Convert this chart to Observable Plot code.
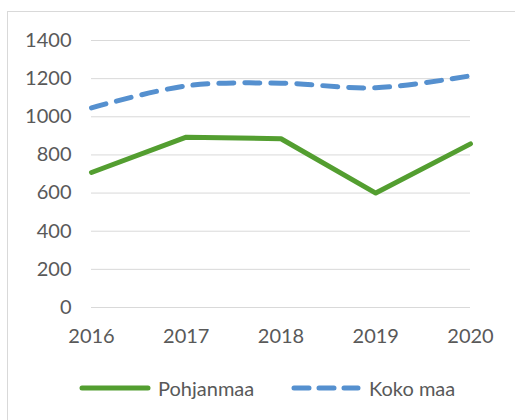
<!DOCTYPE html>
<html><head><meta charset="utf-8">
<script src="https://cdn.jsdelivr.net/npm/d3@7"></script>
<script src="https://cdn.jsdelivr.net/npm/@observablehq/plot@0.6"></script>
<style>
body{margin:0;width:515px;height:420px;overflow:hidden;background:#fff;position:relative;font-family:Lato,sans-serif;}
#frame{position:absolute;left:7px;top:11px;width:600px;height:500px;border:1px solid #d9d9d9;box-sizing:border-box;}
#chart{position:absolute;left:0;top:0;}
#legend{position:absolute;left:0;top:376px;width:515px;height:24px;font-size:20px;line-height:24px;color:#595959;}
#legend .item{position:absolute;top:0;height:24px;white-space:nowrap;}
#legend svg{position:absolute;top:0;}
</style></head><body>
<div id="frame"></div>
<div id="chart"></div>
<div id="legend"></div>
<script>
const years = [2016, 2017, 2018, 2019, 2020];
const pohjanmaa = [708, 893, 885, 600, 858];
const kokoMaa = [1047, 1162, 1176, 1152, 1215];
const yTicks = [0, 200, 400, 600, 800, 1000, 1200, 1400];
const seriesNames = ["Pohjanmaa", "Koko maa"];
const colors = ["#539e30", "#5590cf"];

const rowsP = years.map((y, i) => ({year: y, value: pohjanmaa[i]}));
const rowsK = years.map((y, i) => ({year: y, value: kokoMaa[i]}));

const chart = Plot.plot({
  width: 515, height: 360,
  marginLeft: 91, marginRight: 45, marginTop: 40, marginBottom: 53,
  style: {fontFamily: "Lato, sans-serif", fontSize: "20px", color: "#595959", background: "transparent", overflow: "visible"},
  x: {domain: [2016, 2020], ticks: years, tickFormat: d => String(d), tickSize: 0, tickPadding: 21, label: null},
  y: {domain: [0, 1400], ticks: yTicks, tickFormat: d => String(d), tickSize: 0, tickPadding: 20, label: null},
  marks: [
    Plot.gridY(yTicks, {stroke: "#d9d9d9", strokeOpacity: 1, strokeWidth: 1}),
    Plot.line(rowsP, {x: "year", y: "value", stroke: colors[0], strokeWidth: 5, strokeLinejoin: "round"}),
    Plot.line(rowsK, {x: "year", y: "value", stroke: colors[1], strokeWidth: 5, strokeDasharray: "15,11", strokeLinecap: "round", curve: "catmull-rom"})
  ]
});
document.getElementById("chart").appendChild(chart);

const legend = document.getElementById("legend");
const items = [
  {x0: 82, x1: 148, tx: 158, dash: null},
  {x0: 294, x1: 358, tx: 369, dash: "15,10"}
];
items.forEach((it, i) => {
  const ns = "http://www.w3.org/2000/svg";
  const s = document.createElementNS(ns, "svg");
  s.setAttribute("width", 515); s.setAttribute("height", 24);
  s.style.left = "0px";
  const l = document.createElementNS(ns, "line");
  l.setAttribute("x1", it.x0); l.setAttribute("x2", it.x1);
  l.setAttribute("y1", 12); l.setAttribute("y2", 12);
  l.setAttribute("stroke", colors[i]); l.setAttribute("stroke-width", 5);
  l.setAttribute("stroke-linecap", "round");
  if (it.dash) l.setAttribute("stroke-dasharray", it.dash);
  s.appendChild(l);
  legend.appendChild(s);
  const t = document.createElement("span");
  t.className = "item"; t.style.left = it.tx + "px";
  t.textContent = seriesNames[i];
  legend.appendChild(t);
});
</script>
</body></html>
